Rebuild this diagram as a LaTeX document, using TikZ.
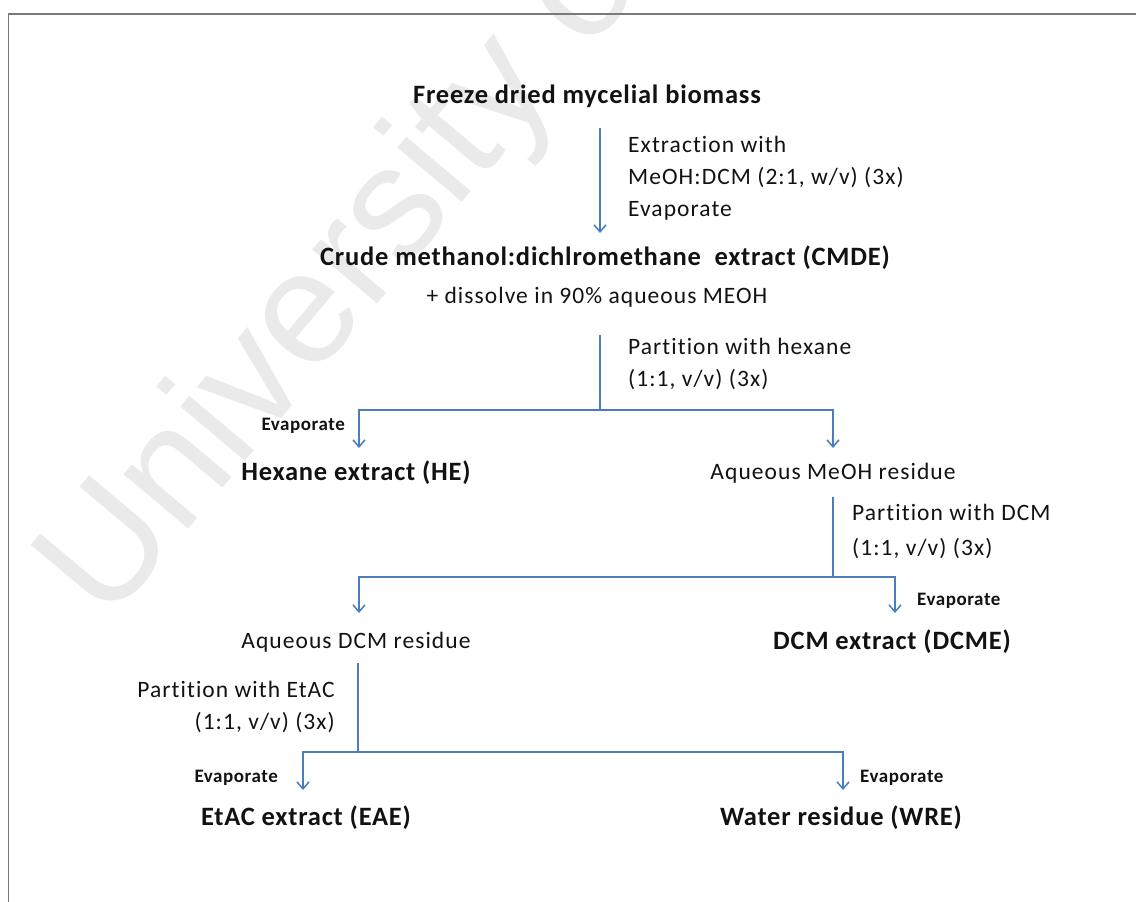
\documentclass[tikz,border=0pt]{standalone}
\usepackage{fontspec}
\usetikzlibrary{arrows.meta}
\setmainfont{Carlito}[Ligatures=NoCommon]
\newfontfamily\cbf{Carlito}[LetterSpace=3,Ligatures=NoCommon]
\newfontfamily\creg{Carlito}[LetterSpace=4.5,Ligatures=NoCommon]
\newfontfamily\wmfont{Liberation Sans}
\definecolor{txt}{HTML}{121212}
\definecolor{lblue}{HTML}{4A7EBB}
\definecolor{framegray}{HTML}{7A7A7A}
\definecolor{wmgray}{HTML}{EAEAEA}
\begin{document}
\begin{tikzpicture}[x=1pt,y=-1pt,
  tb/.style={font=\cbf\bfseries\fontsize{26.5}{30}\selectfont, text=txt, inner sep=0pt},
  tr/.style={font=\creg\fontsize{23.5}{28}\selectfont, text=txt, inner sep=0pt},
  ts/.style={font=\cbf\bfseries\fontsize{19}{22}\selectfont, text=txt, inner sep=0pt},
  ln/.style={draw=lblue, line width=1.5pt},
  arr/.style={ln, -{Straight Barb[length=7pt,width=12pt]}},
  frameline/.style={draw=framegray, line width=1.5pt},
  wm/.style={font=\wmfont\fontsize{160}{160}\selectfont, text=wmgray, inner sep=0pt}
]
\useasboundingbox (0,0) rectangle (1136,902);
% watermark
\node[wm, rotate=50, anchor=base west] (wmark) at (107,626) {University of};
% frame
\draw[frameline] (8.5,902) -- (8.5,14) -- (1136,14);

% nodes
\node[tb, anchor=base] (fdm) at (587,103) {Freeze dried mycelial biomass};
\node[tr, anchor=base west] (ext1) at (628,152) {Extraction with};
\node[tr, anchor=base west] (ext2) at (628,184) {MeOH:DCM (2:1, w/v) (3x)};
\node[tr, anchor=base west] (ext3) at (628,216) {Evaporate};
\node[tb, anchor=base] (crude) at (605,265) {Crude methanol:dichlromethane~ extract (CMDE)};
\node[tr, anchor=base] (dis) at (597,303) {+ dissolve in 90\% aqueous MEOH};
\node[tr, anchor=base west] (ph1) at (628,354) {Partition with hexane};
\node[tr, anchor=base west] (ph2) at (628,386) {(1:1, v/v) (3x)};
\node[ts, anchor=base east] (ev1) at (345,430) {Evaporate};
\node[tb, anchor=base] (he) at (356,480) {Hexane extract (HE)};
\node[tr, anchor=base] (amr) at (833,479) {Aqueous MeOH residue};
\node[tr, anchor=base west] (pd1) at (852,520) {Partition with DCM};
\node[tr, anchor=base west] (pd2) at (852,555) {(1:1, v/v) (3x)};
\node[ts, anchor=base west] (ev2) at (917,605) {Evaporate};
\node[tr, anchor=base] (adr) at (356,648) {Aqueous DCM residue};
\node[tb, anchor=base] (dcme) at (892,649) {DCM extract (DCME)};
\node[tr, anchor=base east] (pe1) at (335,697) {Partition with EtAC};
\node[tr, anchor=base east] (pe2) at (335,729) {(1:1, v/v) (3x)};
\node[ts, anchor=base east] (ev3) at (278,782) {Evaporate};
\node[ts, anchor=base west] (ev4) at (860,782) {Evaporate};
\node[tb, anchor=base] (eae) at (306,825) {EtAC extract (EAE)};
\node[tb, anchor=base] (wre) at (841,825) {Water residue (WRE)};

% connector points
\coordinate (a1s) at (600,128); \coordinate (a1e) at (600,233);
\coordinate (a2s) at (600,335); \coordinate (j1) at (600,410);
\coordinate (j1l) at (359,410); \coordinate (j1r) at (833,410);
\coordinate (heT) at (359,448); \coordinate (amrT) at (833,448);
\coordinate (a3s) at (833,497); \coordinate (j2) at (833,577);
\coordinate (j2l) at (359,577); \coordinate (j2r) at (895,577);
\coordinate (adrT) at (359,613); \coordinate (dcmeT) at (895,613);
\coordinate (a4s) at (358,663); \coordinate (j3) at (358,752);
\coordinate (j3l) at (303,752); \coordinate (j3r) at (843,752);
\coordinate (eaeT) at (303,790); \coordinate (wreT) at (843,790);

% connectors
\draw[arr] (a1s) -- (a1e);
\draw[ln] (a2s) -- (j1);
\draw[arr] (j1) -- (j1l) -- (heT);
\draw[arr] (j1) -- (j1r) -- (amrT);
\draw[ln] (a3s) -- (j2);
\draw[arr] (j2) -- (j2l) -- (adrT);
\draw[arr] (j2) -- (j2r) -- (dcmeT);
\draw[ln] (a4s) -- (j3);
\draw[arr] (j3) -- (j3l) -- (eaeT);
\draw[arr] (j3) -- (j3r) -- (wreT);
\end{tikzpicture}
\end{document}
